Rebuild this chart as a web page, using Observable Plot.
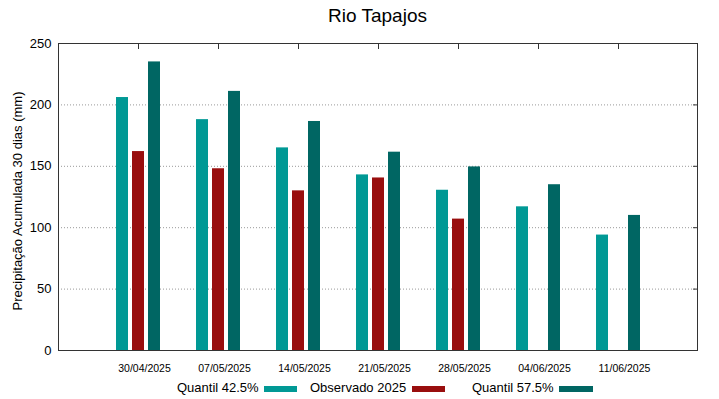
<!DOCTYPE html>
<html><head><meta charset="utf-8">
<script src="https://cdn.jsdelivr.net/npm/d3@7"></script>
<script src="https://cdn.jsdelivr.net/npm/@observablehq/plot@0.6"></script>
<style>
body{margin:0;background:#fff;font-family:"Liberation Sans",Arial,sans-serif;}
#wrap{position:relative;width:719px;height:399px;overflow:hidden;background:#fff;}
#title{position:absolute;left:58px;width:639px;top:0;height:30px;text-align:center;font-size:19px;line-height:30px;padding-top:1px;color:#000;}
#chart{position:absolute;left:0;top:30px;}
.leg{position:absolute;top:380px;font-size:13px;line-height:15px;color:#000;white-space:nowrap;}
.sw{position:absolute;top:386px;height:6px;}
</style>
</head><body>
<div id="wrap">
  <div id="title">Rio Tapajos</div>
  <div id="chart"></div>
  <div id="legend"></div>
</div>
<script>
const dates = ["30/04/2025","07/05/2025","14/05/2025","21/05/2025","28/05/2025","04/06/2025","11/06/2025"];
const q425 = [206, 188, 165, 143, 130.5, 117, 94];
const obs = [162, 148, 130, 140.5, 107, null, null];
const q575 = [235, 211, 186.5, 161.5, 149.5, 135, 110];
const seriesNames = ["Quantil 42.5%", "Observado 2025", "Quantil 57.5%"];
const seriesKeys = ["q425", "obs", "q575"];
const colors = ["#009995", "#990e0e", "#006663"];
const yTicks = [0, 50, 100, 150, 200, 250];
const gridVals = [50, 100, 150, 200];
const yLabel = "Precipitação Acumulada 30 dias (mm)";

const rows = dates.map((d, i) => ({date: d, q425: q425[i], obs: obs[i], q575: q575[i]}));
const offsets = [-16, 0, 16];

const plot = Plot.plot({
  width: 719, height: 369,
  marginLeft: 58, marginRight: 22, marginTop: 13, marginBottom: 49,
  style: {fontFamily: "Liberation Sans, Arial, sans-serif", background: "white", color: "#000"},
  x: {type: "band", domain: dates, paddingInner: 0, paddingOuter: 0.49375, align: 0.5, label: null},
  y: {domain: [0, 250], label: null},
  marks: [
    Plot.ruleY(gridVals, {stroke: "#999", strokeDasharray: "1,2", strokeWidth: 1}),
    ...seriesKeys.map((k, j) => Plot.barY(rows, {x: "date", y: k, fill: colors[j], insetLeft: 34, insetRight: 34, dx: offsets[j]})),
    Plot.frame({stroke: "#333", strokeWidth: 1}),
    Plot.axisY({ticks: yTicks, tickSize: 0, tickPadding: 7, fontSize: 13, label: null}),
    Plot.text([yLabel], {text: d => d, frameAnchor: "left", textAnchor: "middle", lineAnchor: "middle", rotate: -90, dx: -40.5, dy: 4, fontSize: 13, fill: "#000"}),
    Plot.axisY({anchor: "right", ticks: gridVals, tickSize: -5, text: null, label: null, stroke: "#333"}),
    Plot.axisX({tickSize: 0, tickPadding: 14, fontSize: 10.5, dx: 6, label: null}),
    Plot.axisX({anchor: "top", tickSize: -5, text: null, label: null, stroke: "#333"})
  ]
});
document.getElementById("chart").appendChild(plot);

const legPos = [[177, 264, 33], [310, 412, 33], [472, 559, 34]];
const leg = document.getElementById("legend");
seriesNames.forEach((n, j) => {
  const t = document.createElement("span");
  t.className = "leg"; t.style.left = legPos[j][0] + "px"; t.textContent = n;
  leg.appendChild(t);
  const s = document.createElement("span");
  s.className = "sw"; s.style.left = legPos[j][1] + "px"; s.style.width = legPos[j][2] + "px"; s.style.background = colors[j];
  leg.appendChild(s);
});
</script>
</body></html>
